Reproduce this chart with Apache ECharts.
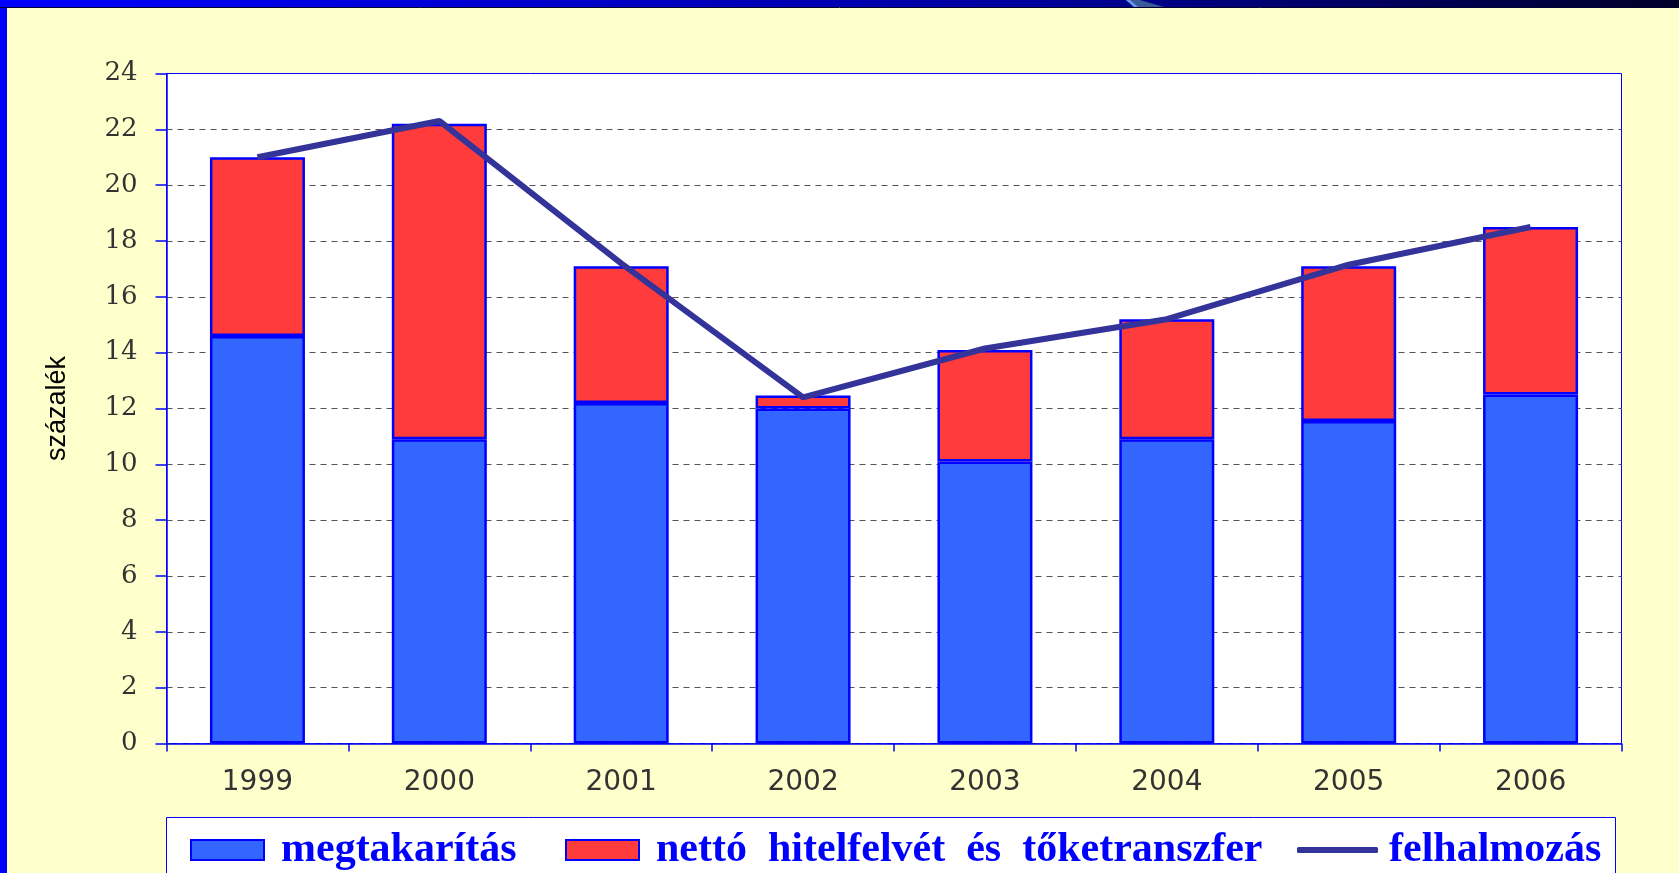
<!DOCTYPE html>
<html>
<head>
<meta charset="utf-8">
<title>megtakarítás</title>
<script src="https://cdn.jsdelivr.net/npm/echarts@6/dist/echarts.min.js"></script>
<style>
	html, body { margin: 0; padding: 0; background: #FFFFCC; }
	#chart1 { width: 1679px; height: 873px; }
</style>
</head>
<body>
<div id="chart1"></div>
<script>
	// adatok
	var years = ['1999', '2000', '2001', '2002', '2003', '2004', '2005', '2006'];
	var megtakaritas = [14.6, 10.9, 12.2, 12.0, 10.1, 10.9, 11.55, 12.5];
	var nettoHitel = [6.4, 11.3, 4.9, 0.47, 4.0, 4.3, 5.55, 6.0];
	var felhalmozas = [21.0, 22.3, 17.2, 12.4, 14.15, 15.2, 17.15, 18.5];
	var yTicks = [0, 2, 4, 6, 8, 10, 12, 14, 16, 18, 20, 22, 24];

	var myChart = echarts.init(document.getElementById('chart1'));

	var legendText = {
		fontFamily: 'Liberation Serif',
		fontWeight: 'bold',
		fontSize: 42,
		color: '#0000FF',
		padding: [0, 0, 0, 12]
	};

	var option = {
		backgroundColor: '#FFFFCC',
		animation: false,
		graphic: [
			{ // jelmagyarazat kerete
				type: 'rect', z: 0,
				shape: { x: 166.5, y: 817.5, width: 1449, height: 70 },
				style: { fill: '#FFFFFF', stroke: '#0000FF', lineWidth: 1 }
			},
			{
				type: 'rect', z: 100,
				shape: { x: 0, y: 0, width: 1679, height: 7 },
				style: {
					fill: new echarts.graphic.LinearGradient(0, 0, 1, 0, [
						{ offset: 0, color: '#0000FF' },
						{ offset: 0.6, color: '#0000A0' },
						{ offset: 1, color: '#000028' }
					])
				}
			},
			{
				type: 'line', z: 101,
				shape: { x1: 0, y1: 7.5, x2: 1679, y2: 7.5 },
				style: { stroke: '#000033', lineWidth: 1 }
			},
			{
				type: 'polygon', z: 102,
				shape: { points: [[1126, 0], [1140, 0], [1164, 7], [1134, 7]] },
				style: { fill: '#3A5A9A' }
			},
			{
				type: 'polygon', z: 103,
				shape: { points: [[1126, 0], [1130, 0], [1138, 7], [1134, 7]] },
				style: { fill: '#6A9AF0' }
			},
			{
				type: 'rect', z: 100,
				shape: { x: 0, y: 0, width: 7, height: 873 },
				style: { fill: '#0000FF' }
			}
		],
		legend: [
			{
				left: 185, top: 824,
				itemWidth: 73, itemHeight: 20,
				icon: 'rect',
				data: ['megtakarítás'],
				textStyle: legendText
			},
			{
				left: 560, top: 824,
				itemWidth: 73, itemHeight: 20,
				icon: 'rect',
				data: ['nettó hitelfelvét és tőketranszfer'],
				formatter: function (name) {
					return name.replace(/ /g, '  ');
				},
				textStyle: legendText
			},
			{
				left: 1292, top: 824,
				itemWidth: 81, itemHeight: 6,
				icon: 'roundRect',
				data: ['felhalmozás'],
				textStyle: { fontFamily: 'Liberation Serif', fontWeight: 'bold', fontSize: 42, color: '#0000FF', padding: [0, 0, 0, 6] }
			}
		],
		grid: {
			left: 166.5,
			right: 57.5,
			top: 73.5,
			bottom: 129.5,
			show: true,
			backgroundColor: '#FFFFFF',
			borderColor: '#0000FF',
			borderWidth: 1
		},
		xAxis: {
			type: 'category',
			data: years,
			axisLine: { lineStyle: { color: '#0000FF', width: 1.5 } },
			axisTick: { show: true, length: 8, lineStyle: { color: '#0000FF', width: 1.5 } },
			axisLabel: {
				margin: 25,
				fontFamily: 'DejaVu Sans',
				fontSize: 28,
				color: '#333333'
			}
		},
		yAxis: {
			type: 'value',
			min: yTicks[0],
			max: yTicks[yTicks.length - 1],
			interval: 2,
			name: 'százalék',
			nameLocation: 'middle',
			nameRotate: 90,
			nameGap: 95,
			nameTextStyle: { fontFamily: 'Liberation Sans', fontSize: 27, color: '#000000' },
			axisLine: { show: true, lineStyle: { color: '#0000FF', width: 1.5 } },
			axisTick: { show: true, length: 11, lineStyle: { color: '#0000FF', width: 1.5 } },
			axisLabel: {
				margin: 29,
				fontFamily: 'DejaVu Serif',
				fontSize: 26,
				color: '#333333'
			},
			splitLine: {
				show: true,
				showMaxLine: false,
				lineStyle: { color: '#555555', width: 1.2, type: [6, 5] }
			}
		},
		series: [
			{
				name: 'megtakarítás',
				type: 'bar',
				stack: 'ossz',
				barWidth: 95,
				data: megtakaritas,
				itemStyle: { color: '#3366FF', borderColor: '#0000FF', borderWidth: 2.5 }
			},
			{
				name: 'nettó hitelfelvét és tőketranszfer',
				type: 'bar',
				stack: 'ossz',
				barWidth: 95,
				data: nettoHitel,
				itemStyle: { color: '#FF3B3B', borderColor: '#0000FF', borderWidth: 2.5 }
			},
			{
				name: 'felhalmozás',
				type: 'line',
				data: felhalmozas,
				symbol: 'none',
				z: 5,
				lineStyle: { color: '#333399', width: 6 },
				itemStyle: { color: '#333399' }
			}
		]
	};

	myChart.setOption(option);
</script>
</body>
</html>
